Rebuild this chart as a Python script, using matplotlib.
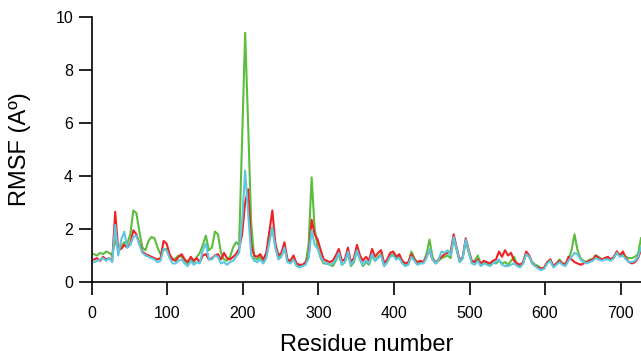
import numpy as np
import matplotlib
matplotlib.use('Agg')
import matplotlib.pyplot as plt

plt.rcParams['font.family'] = ['Liberation Sans', 'DejaVu Sans']

# residue numbers sampled every 4th residue
residues = np.arange(3, 731, 4)

rmsf_red = [
    0.85, 0.90, 0.80, 0.95, 0.85, 0.90, 0.80, 2.65, 1.20, 1.25,
    1.40, 1.30, 1.45, 1.95, 1.80, 1.45, 1.15, 1.05, 1.00, 0.95,
    0.90, 0.85, 0.90, 1.55, 1.45, 1.05, 0.85, 0.80, 0.95, 1.05,
    0.85, 0.75, 0.95, 0.80, 0.90, 0.75, 1.00, 1.05, 0.85, 0.90,
    1.00, 1.05, 0.85, 1.10, 0.90, 0.85, 0.95, 1.05, 1.25, 1.80,
    3.00, 3.50, 1.40, 1.00, 0.95, 1.05, 0.85, 1.10, 1.90, 2.70,
    1.45, 1.00, 1.10, 1.50, 0.85, 0.80, 1.00, 0.70, 0.65, 0.65,
    0.75, 0.95, 2.35, 1.80, 1.60, 1.20, 0.85, 0.80, 0.75, 0.80,
    1.00, 1.25, 0.80, 0.85, 1.30, 0.75, 0.90, 1.40, 1.00, 0.80,
    0.95, 0.80, 1.25, 0.95, 1.10, 1.20, 0.70, 0.85, 1.10, 1.15,
    0.95, 1.05, 0.80, 0.70, 0.75, 1.05, 0.85, 0.75, 0.80, 0.75,
    0.95, 1.20, 0.85, 0.75, 0.85, 0.95, 1.05, 1.10, 1.15, 1.80,
    1.30, 0.80, 0.95, 1.65, 1.20, 0.80, 0.75, 0.85, 0.70, 0.80,
    0.75, 0.70, 0.80, 0.85, 1.15, 0.95, 1.20, 1.00, 1.10, 0.80,
    0.70, 0.65, 0.75, 1.15, 1.00, 0.70, 0.60, 0.55, 0.50, 0.55,
    0.75, 0.85, 0.60, 0.70, 0.80, 0.70, 0.65, 0.95, 0.85, 0.75,
    0.70, 0.65, 0.70, 0.75, 0.80, 0.85, 1.00, 0.90, 0.85, 0.90,
    0.95, 0.85, 0.95, 1.15, 1.00, 1.15, 0.90, 0.75, 0.70, 0.75,
    0.90, 1.20,
]

rmsf_green = [
    1.05, 1.00, 1.10, 1.05, 1.15, 1.10, 1.00, 1.60, 1.20, 1.35,
    1.50, 1.45, 1.80, 2.70, 2.60, 1.90, 1.30, 1.20, 1.55, 1.70,
    1.65, 1.30, 1.05, 1.20, 1.25, 1.00, 0.85, 0.90, 1.00, 0.95,
    0.80, 0.70, 0.85, 0.75, 0.95, 1.10, 1.40, 1.75, 1.20, 1.30,
    1.90, 1.80, 1.10, 0.85, 0.80, 0.95, 1.30, 1.50, 1.40, 5.40,
    9.40, 5.90, 2.20, 0.90, 0.85, 0.95, 0.80, 1.00, 1.60, 2.05,
    1.30, 0.90, 1.00, 1.30, 0.80, 0.75, 0.90, 0.65, 0.60, 0.60,
    0.70, 1.40, 3.95, 2.00, 1.30, 0.90, 0.70, 0.70, 0.65, 0.60,
    0.80, 1.05, 0.65, 0.75, 1.10, 0.60, 0.75, 1.20, 0.85, 0.60,
    0.75, 0.65, 1.00, 0.80, 0.95, 1.05, 0.60, 0.75, 1.00, 1.05,
    0.90, 0.95, 0.75, 0.65, 0.70, 1.15, 0.90, 0.70, 0.75, 0.75,
    1.05, 1.60, 0.95, 0.70, 0.80, 0.90, 0.95, 1.00, 0.90, 1.65,
    1.20, 0.75, 0.90, 1.55, 1.10, 0.75, 0.80, 1.00, 0.65, 0.75,
    0.70, 0.65, 0.75, 0.70, 0.80, 0.70, 0.75, 0.65, 0.80, 0.95,
    0.65, 0.60, 0.70, 1.10, 0.95, 0.75, 0.65, 0.60, 0.50, 0.55,
    0.75, 0.85, 0.60, 0.70, 0.85, 0.70, 0.70, 0.85, 1.20, 1.80,
    1.20, 0.90, 0.80, 0.75, 0.85, 0.85, 1.00, 0.95, 0.85, 0.90,
    0.90, 0.85, 0.90, 1.15, 1.00, 1.05, 0.95, 0.90, 0.90, 0.95,
    1.05, 1.65,
]

rmsf_blue = [
    0.75, 0.80, 0.85, 0.90, 0.80, 0.90, 0.75, 2.15, 1.00, 1.60,
    1.90, 1.30, 1.40, 1.70, 1.75, 1.40, 1.10, 1.00, 0.95, 0.90,
    0.85, 0.75, 0.80, 1.25, 1.20, 0.90, 0.70, 0.70, 0.80, 0.85,
    0.70, 0.60, 0.80, 0.65, 0.75, 0.70, 1.20, 1.45, 0.85, 0.85,
    1.00, 0.95, 0.70, 0.75, 0.65, 0.75, 0.80, 0.95, 1.10, 2.30,
    4.20, 2.60, 1.00, 0.80, 0.75, 0.85, 0.70, 0.90, 1.50, 2.05,
    1.30, 0.85, 0.95, 1.30, 0.75, 0.70, 0.85, 0.60, 0.55, 0.60,
    0.65, 0.90, 1.95, 1.40, 1.25, 0.95, 0.75, 0.70, 0.65, 0.70,
    0.85, 1.10, 0.65, 0.75, 1.15, 0.65, 0.80, 1.20, 0.85, 0.65,
    0.80, 0.70, 1.05, 0.80, 0.90, 1.00, 0.60, 0.75, 0.95, 1.00,
    0.85, 0.90, 0.70, 0.60, 0.65, 0.95, 0.80, 0.65, 0.70, 0.70,
    0.90, 1.25, 0.85, 0.70, 0.85, 1.15, 1.10, 1.20, 1.00, 1.70,
    1.25, 0.75, 0.90, 1.60, 1.15, 0.70, 0.65, 0.80, 0.60, 0.70,
    0.65, 0.60, 0.70, 0.75, 0.85, 0.65, 0.60, 0.60, 0.65, 0.70,
    0.60, 0.55, 0.70, 1.05, 0.95, 0.70, 0.60, 0.50, 0.45, 0.50,
    0.70, 0.80, 0.55, 0.65, 0.75, 0.65, 0.60, 0.80, 0.95, 1.10,
    1.05, 0.85, 0.75, 0.70, 0.75, 0.80, 0.90, 0.85, 0.80, 0.85,
    0.85, 0.80, 0.90, 1.10, 0.95, 1.00, 0.85, 0.75, 0.75, 0.80,
    0.95, 1.30,
]

fig = plt.figure(figsize=(6.41, 3.51), dpi=100)
ax = fig.add_axes([0.1432, 0.1966, 0.8568, 0.755])

ax.plot(residues, rmsf_green, color='#5cbd3c', lw=1.5)
ax.plot(residues, rmsf_red, color='#ec2226', lw=1.5)
ax.plot(residues, rmsf_blue, color='#5ec6e0', lw=1.5)

ax.set_xlim(0, 727)
ax.set_ylim(0, 10)
ax.set_xticks(range(0, 701, 100))
ax.set_yticks(range(0, 11, 2))

for s in ['top', 'right']:
    ax.spines[s].set_visible(False)
for s in ['left', 'bottom']:
    ax.spines[s].set_linewidth(1.2)
ax.spines['left'].set_position(('data', 0))
ax.spines['bottom'].set_position(('data', 0))

ax.tick_params(axis='both', direction='out', length=9.5, width=1.2, labelsize=11.5)
ax.tick_params(axis='x', pad=8)
ax.tick_params(axis='y', pad=4)

ax.set_xlabel('Residue number', fontsize=17)
ax.set_ylabel('RMSF (A\u00ba)', fontsize=17)
ax.xaxis.set_label_coords(0.5, -0.195)
ax.yaxis.set_label_coords(-0.11, 0.5)

fig.savefig('out.png', dpi=100)
